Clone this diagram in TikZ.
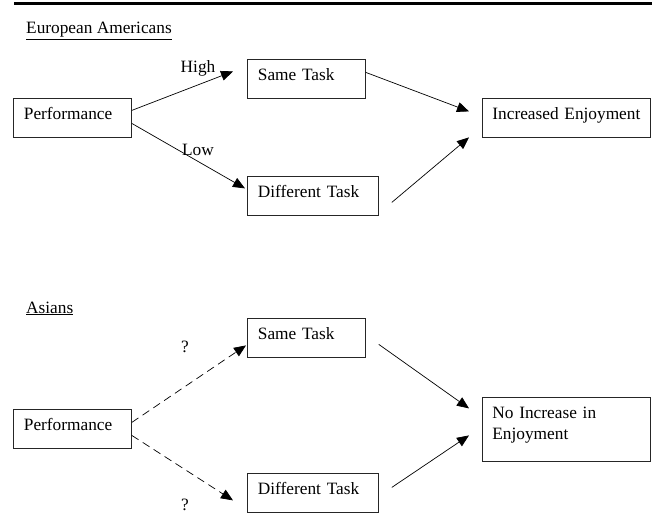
\documentclass[tikz,border=0pt]{standalone}
\usepackage{fontspec}
\setmainfont{Liberation Serif}
\usepackage{tikz}
\usetikzlibrary{positioning,arrows.meta}
\tikzstyle{box}=[draw=black!85, line width=0.8pt, anchor=north west, align=left,
  inner xsep=10.5pt, inner ysep=9pt, text height=12pt, text depth=9pt,
  font=\fontsize{17.3}{21}\selectfont]
\tikzstyle{link}=[-{Triangle[length=12pt,width=10pt]}, line width=0.7pt]
\tikzstyle{guess}=[link, dash pattern=on 8pt off 5pt]
\tikzstyle{lbl}=[inner sep=0pt, anchor=base, font=\fontsize{17.3}{21}\selectfont]
\tikzstyle{head}=[inner sep=0pt, anchor=base west, font=\fontsize{17.3}{21}\selectfont]

\begin{document}
\begin{tikzpicture}[x=1pt,y=-1pt]
    \useasboundingbox (0,0) rectangle (652,516);

    % rule on top
    \draw[line width=3pt] (14,4) -- (652,4);

    % EUROPEAN AMERICANS
    \node[head] (title1) at (26,34) {\underline{European Americans}};
    \node[box, text width=97pt] (perf1) at (13,98) {Performance};
    \node[box, text width=97pt] (same1) at (247,59) {Same Task};
    \node[box, text width=110pt] (diff1) at (247,176) {Different Task};
    \node[box, inner xsep=10pt, text width=148pt] (inc1) at (482,98) {Increased Enjoyment};

    \draw[link] ([yshift=7.5pt]perf1.east) -- ([xshift=-14pt,yshift=7.5pt]same1.west);
    \draw[link] ([yshift=-5.5pt]perf1.east) -- ([xshift=-2pt,yshift=7.5pt]diff1.west);
    \draw[link] ([yshift=6.5pt]same1.east) -- ([xshift=-13pt,yshift=6.5pt]inc1.west);
    \draw[link] ([xshift=13pt,yshift=-6.5pt]diff1.east) -- ([xshift=-13pt,yshift=-19.5pt]inc1.west);

    \node[lbl] (high) at (198,73) {High};
    \node[lbl] (low) at (198,155) {Low};

    % ASIANS
    \node[head] (title2) at (26,313) {\underline{Asians}};
    \node[box, text width=97pt] (perf2) at (13,409) {Performance};
    \node[box, text width=97pt] (same2) at (247,318) {Same Task};
    \node[box, text width=110pt] (diff2) at (247,473) {Different Task};
    \node[box, inner xsep=10pt, text width=148pt, text depth=34pt] (inc2) at (482,397) {No Increase in\\Enjoyment};

    \draw[guess] ([yshift=6.5pt]perf2.east) -- ([xshift=-1pt,yshift=-7.5pt]same2.west);
    \draw[guess] ([yshift=-6.5pt]perf2.east) -- ([xshift=-14pt,yshift=-7.5pt]diff2.west);
    \draw[link] ([xshift=13pt,yshift=-6.5pt]same2.east) -- ([xshift=-13pt,yshift=21pt]inc2.west);
    \draw[link] ([xshift=13pt,yshift=5.5pt]diff2.east) -- ([xshift=-13pt,yshift=-6pt]inc2.west);

    \node[lbl] (q1) at (185,352) {?};
    \node[lbl] (q2) at (185,510) {?};
\end{tikzpicture}
\end{document}
